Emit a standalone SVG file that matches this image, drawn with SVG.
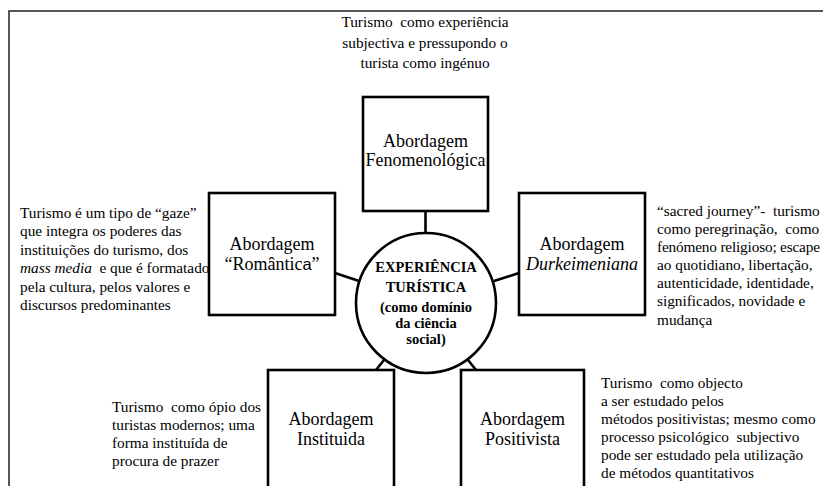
<svg xmlns="http://www.w3.org/2000/svg" width="823" height="486" viewBox="0 0 823 486" xml:space="preserve">
  <style>
    text { white-space: pre; }
    .frame { fill: none; stroke: #222; stroke-width: 1.5; }
    .box { fill: #fff; stroke: #000; stroke-width: 2.6; }
    .hub { fill: #fff; stroke: #000; stroke-width: 2.6; }
    .link { stroke: #000; stroke-width: 2.6; fill: none; }
    .note { font-family: "Liberation Serif", "Times New Roman", serif; font-size: 15.3px; fill: #000; }
    .label { font-family: "Liberation Serif", "Times New Roman", serif; font-size: 18px; fill: #000; text-anchor: middle; }
    .core { font-family: "Liberation Serif", "Times New Roman", serif; font-size: 14.5px; font-weight: bold; fill: #000; text-anchor: middle; }
    .sans { font-family: "Liberation Sans", Arial, sans-serif; font-size: 16.5px; }
  </style>

  <rect width="823" height="486" fill="#fff"/>
  <!-- outer frame (open to the right and bottom) -->
  <path class="frame" d="M9,486 V11 H823"/>

  <g id="connectors">
    <line class="link" x1="425.5" y1="211" x2="425.5" y2="234"/>
    <line class="link" x1="335" y1="273" x2="359" y2="281"/>
    <line class="link" x1="519" y1="273" x2="494" y2="281"/>
    <line class="link" x1="376" y1="370" x2="384" y2="360"/>
    <line class="link" x1="476" y1="370" x2="468" y2="360"/>
  </g>

  <g id="hub">
    <circle class="hub" cx="426" cy="303" r="70"/>
    <text class="core" x="426" y="272">EXPERIÊNCIA</text>
    <text class="core" x="426" y="292">TURÍSTICA</text>
    <text class="core" x="426" y="312">(como domínio</text>
    <text class="core" x="426" y="328">da ciência</text>
    <text class="core" x="426" y="344">social)</text>
  </g>

  <g id="fenomenologica">
    <rect class="box" x="363" y="97" width="125" height="114"/>
    <text class="label" x="425.5" y="147">Abordagem</text>
    <text class="label" x="425.5" y="166">Fenomenológica</text>
    <text class="note" x="425" y="27" text-anchor="middle">Turismo  como experiência</text>
    <text class="note" x="425" y="48" text-anchor="middle">subjectiva e pressupondo o</text>
    <text class="note" x="425" y="68" text-anchor="middle">turista como ingénuo</text>
  </g>

  <g id="romantica">
    <rect class="box" x="209" y="193" width="126" height="122"/>
    <text class="label" x="272" y="250">Abordagem</text>
    <text class="label" x="272" y="270">“Romântic<tspan class="sans">a</tspan>”</text>
    <text class="note" x="20" y="218">Turismo é um tipo de “gaze”</text>
    <text class="note" x="20" y="236">que integra os poderes das</text>
    <text class="note" x="20" y="255">instituições do turismo, dos</text>
    <text class="note" x="20" y="273"><tspan font-style="italic">mass media</tspan>  e que é formatado</text>
    <text class="note" x="20" y="292">pela cultura, pelos valores e</text>
    <text class="note" x="20" y="310">discursos predominantes</text>
  </g>

  <g id="durkeimeniana">
    <rect class="box" x="519" y="193" width="126" height="122"/>
    <text class="label" x="582" y="250">Abordagem</text>
    <text class="label" x="582" y="270" font-style="italic">Durkeimeniana</text>
    <text class="note" x="657" y="216">“sacred journey”-  turismo</text>
    <text class="note" x="657" y="234">como peregrinação,  como</text>
    <text class="note" x="657" y="252" textLength="163" lengthAdjust="spacing">fenómeno religioso; escape</text>
    <text class="note" x="657" y="270">ao quotidiano, libertação,</text>
    <text class="note" x="657" y="288">autenticidade, identidade,</text>
    <text class="note" x="657" y="306">significados, novidade e</text>
    <text class="note" x="657" y="325">mudança</text>
  </g>

  <g id="instituida">
    <rect class="box" x="268" y="370" width="126" height="130"/>
    <text class="label" x="331" y="425">Abordagem</text>
    <text class="label" x="331" y="445">Instituida</text>
    <text class="note" x="112" y="412">Turismo  como ópio dos</text>
    <text class="note" x="112" y="430">turistas modernos; uma</text>
    <text class="note" x="112" y="448">forma instituída de</text>
    <text class="note" x="112" y="466">procura de prazer</text>
  </g>

  <g id="positivista">
    <rect class="box" x="461" y="370" width="123" height="130"/>
    <text class="label" x="522.5" y="425">Abordagem</text>
    <text class="label" x="522.5" y="445">Positivista</text>
    <text class="note" x="601" y="388">Turismo  como objecto</text>
    <text class="note" x="601" y="406">a ser estudado pelos</text>
    <text class="note" x="601" y="424">métodos positivistas; mesmo como</text>
    <text class="note" x="601" y="442">processo psicológico  subjectivo</text>
    <text class="note" x="601" y="460">pode ser estudado pela utilização</text>
    <text class="note" x="601" y="478">de métodos quantitativos</text>
  </g>
</svg>
